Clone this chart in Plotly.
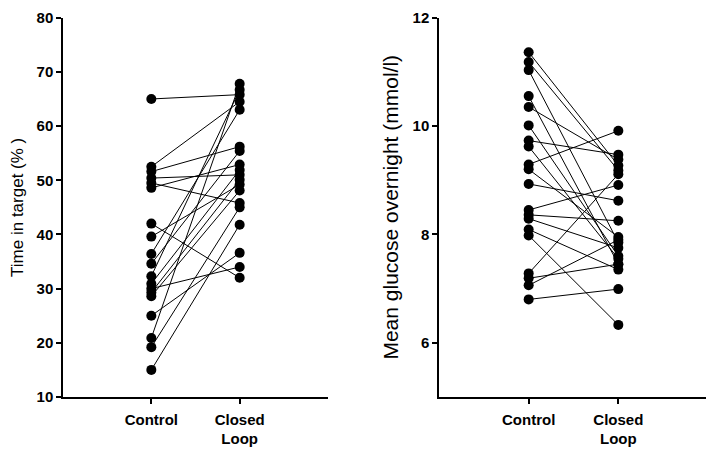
import plotly.graph_objects as go

# Time in target (%) per subject
tit_control = [65.0, 52.5, 51.6, 50.4, 49.5, 48.6, 42.0, 39.6, 36.4, 34.6,
               32.3, 30.9, 30.0, 29.3, 28.6, 25.0, 20.9, 19.2, 15.0]
tit_closed = [65.8, 64.5, 56.2, 51.0, 45.8, 52.9, 32.0, 49.2, 63.0, 55.4,
              66.7, 51.9, 34.0, 50.1, 48.1, 36.6, 67.8, 45.0, 41.8]

# Mean glucose overnight (mmol/l) per subject
glu_control = [11.36, 11.18, 11.03, 10.55, 10.35, 10.01, 9.73, 9.62, 9.29, 9.20,
               8.93, 8.45, 8.36, 8.29, 8.09, 7.98, 7.28, 7.19, 7.06, 6.80]
glu_closed = [9.27, 9.18, 7.85, 7.45, 9.38, 7.60, 9.47, 7.55, 9.91, 7.95,
              8.62, 8.91, 8.25, 7.75, 7.35, 6.33, 9.11, 7.45, 7.90, 6.99]

groups = ["Control", "Closed<br>Loop"]
group_pos = [1, 2]

FONT = "Liberation Sans, Arial, sans-serif"
W, H = 706, 447  # page body keeps an 8px margin


def paired(ctrl, cl):
    xs, ys = [], []
    for a, b in zip(ctrl, cl):
        xs += [group_pos[0], group_pos[1], None]
        ys += [a, b, None]
    return xs, ys


def xdom(a, b):
    return [(a - 8) / W, (b - 8) / W]


def ydom(bottom, top):
    return [(H - (bottom - 8)) / H, (H - (top - 8)) / H]


fig = go.Figure()

x1, y1 = paired(tit_control, tit_closed)
fig.add_trace(go.Scatter(x=x1, y=y1, mode="lines+markers", xaxis="x", yaxis="y",
                         line=dict(color="black", width=1),
                         marker=dict(color="black", size=10), showlegend=False))

x2, y2 = paired(glu_control, glu_closed)
fig.add_trace(go.Scatter(x=x2, y=y2, mode="lines+markers", xaxis="x2", yaxis="y2",
                         line=dict(color="black", width=1),
                         marker=dict(color="black", size=10), showlegend=False))

ax_common = dict(showline=True, linecolor="black", linewidth=1.5, showgrid=False,
                 zeroline=False, ticks="outside", ticklen=5, tickwidth=1.5,
                 tickcolor="black", automargin=False, ticklabeloverflow="allow",
                 tickfont=dict(family=FONT, size=15, color="black", weight="bold"))

fig.update_layout(
    width=W, height=H,
    plot_bgcolor="white", paper_bgcolor="white",
    margin=dict(l=0, r=0, t=0, b=0),
    xaxis=dict(domain=xdom(63, 328), range=[0, 3], tickvals=group_pos,
               ticktext=groups, anchor="y", ticklabelstandoff=3, **ax_common),
    yaxis=dict(domain=ydom(397, 17.7), range=[10, 80], tickvals=list(range(10, 81, 10)),
               anchor="x", title=dict(text="Time in target (% )", standoff=12,
                                      font=dict(family=FONT, size=17, color="black")),
               **ax_common),
    xaxis2=dict(domain=xdom(439, 708), range=[0, 3], tickvals=group_pos,
                ticktext=groups, anchor="y2", ticklabelstandoff=3, **ax_common),
    yaxis2=dict(domain=ydom(397, 17.5), range=[5, 12], tickvals=[6, 8, 10, 12],
                anchor="x2", title=dict(text="Mean glucose overnight (mmol/l)", standoff=8,
                                        font=dict(family=FONT, size=21, color="black")),
                **ax_common),
)

fig.write_html("out.html")
